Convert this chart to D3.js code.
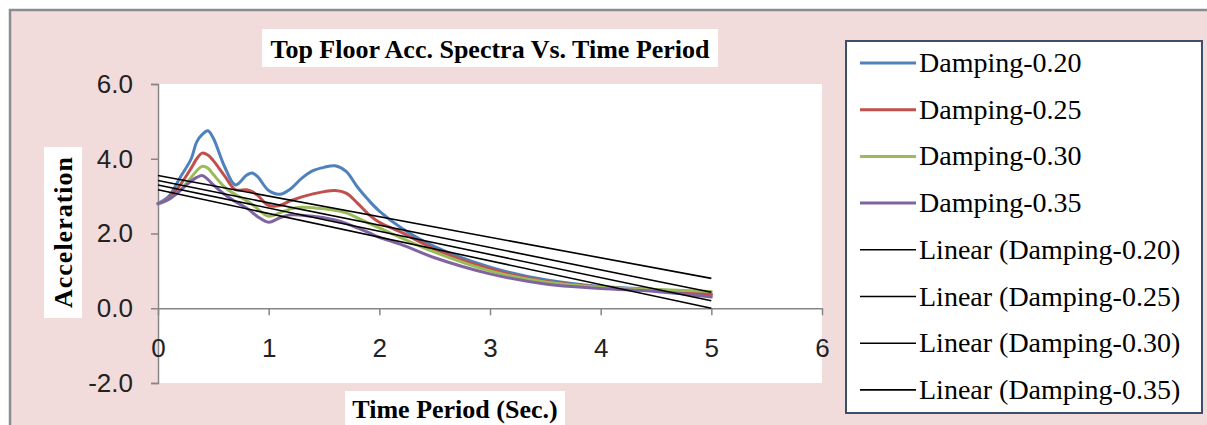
<!DOCTYPE html>
<html>
<head>
<meta charset="utf-8">
<script src="https://cdn.jsdelivr.net/npm/d3@7"></script>
<style>
  html, body { margin: 0; padding: 0; background: #ffffff; overflow: hidden; }
  svg { display: block; }
  .serif { font-family: "Liberation Serif", "Times New Roman", Times, serif; }
  .sans { font-family: "Liberation Sans", Arial, sans-serif; }
</style>
</head>
<body>
<svg id="chart" width="1207" height="425"></svg>
<script>
// ---- Data ----
const periods   = [0, 0.1, 0.2, 0.3, 0.35, 0.4, 0.45, 0.5, 0.6, 0.7, 0.8, 0.85, 0.9, 1.0, 1.1, 1.2, 1.3, 1.4, 1.5, 1.6, 1.7, 1.8, 1.9, 2.0, 2.2, 2.5, 3.0, 3.5, 4.0, 4.5, 5.0];
const damping20 = [2.8, 3.0, 3.5, 4.0, 4.45, 4.65, 4.75, 4.55, 3.8, 3.3, 3.56, 3.62, 3.52, 3.15, 3.05, 3.2, 3.48, 3.68, 3.77, 3.81, 3.66, 3.25, 2.9, 2.6, 2.15, 1.65, 1.1, 0.76, 0.58, 0.5, 0.36];
const damping25 = [2.8, 2.95, 3.3, 3.75, 4.0, 4.15, 4.1, 3.95, 3.55, 3.17, 3.17, 3.12, 3.02, 2.75, 2.75, 2.88, 2.98, 3.06, 3.12, 3.15, 3.08, 2.82, 2.52, 2.3, 2.03, 1.58, 1.05, 0.72, 0.57, 0.48, 0.38];
const damping30 = [2.8, 2.92, 3.15, 3.5, 3.68, 3.8, 3.75, 3.58, 3.25, 3.04, 2.88, 2.78, 2.66, 2.46, 2.55, 2.66, 2.7, 2.69, 2.66, 2.62, 2.55, 2.42, 2.28, 2.15, 1.88, 1.5, 1.0, 0.7, 0.56, 0.5, 0.45];
const damping35 = [2.8, 2.92, 3.15, 3.4, 3.5, 3.55, 3.45, 3.3, 3.05, 2.85, 2.68, 2.57, 2.45, 2.3, 2.42, 2.5, 2.49, 2.46, 2.42, 2.36, 2.27, 2.15, 2.03, 1.9, 1.7, 1.35, 0.92, 0.65, 0.53, 0.45, 0.3];
const seriesNames  = ["Damping-0.20", "Damping-0.25", "Damping-0.30", "Damping-0.35"];
const seriesColors = ["#4f81bd", "#c0504d", "#9bbb59", "#8064a2"];
// Linear trend lines: value at T = 0 and at T = 5
const trendStart = [3.55, 3.42, 3.30, 3.17];
const trendEnd   = [0.80, 0.43, 0.20, 0.00];
const trendRange = [0, 5];
const xTicks = [0, 1, 2, 3, 4, 5, 6];
const yTicks = [-2, 0, 2, 4, 6];

const seriesValues = [damping20, damping25, damping30, damping35];

// ---- Layout ----
const svg = d3.select("#chart");
const W = 1207, H = 425;
const plot = { left: 158, right: 822, top: 84, bottom: 383 };

// outer chart area
svg.append("rect").attr("x", 10).attr("y", 10).attr("width", W + 20).attr("height", H + 20)
  .attr("fill", "#f2dcdb").attr("stroke", "#8c8c8c").attr("stroke-width", 2.5);

// plot area
svg.append("rect").attr("x", plot.left).attr("y", plot.top)
  .attr("width", plot.right - plot.left).attr("height", plot.bottom - plot.top)
  .attr("fill", "#ffffff");

const x = d3.scaleLinear().domain([0, 6]).range([plot.left, plot.right]);
const y = d3.scaleLinear().domain([-2, 6]).range([plot.bottom, plot.top]);
const fmtY = v => d3.format(".1f")(v).replace("\u2212", "-");

// Y axis
const yAxis = svg.append("g").attr("transform", `translate(${plot.left},0)`)
  .call(d3.axisLeft(y).tickValues(yTicks).tickSize(7).tickPadding(18).tickFormat(fmtY));
yAxis.selectAll("path, line").attr("stroke", "#868686").attr("stroke-width", 1.5);
yAxis.selectAll("text").attr("class", "sans").attr("font-family", null)
  .attr("font-size", 26).attr("fill", "#222");

// X axis at y = 0
const xAxis = svg.append("g").attr("transform", `translate(0,${y(0)})`)
  .call(d3.axisBottom(x).tickValues(xTicks).tickSize(7).tickSizeOuter(0).tickPadding(23).tickFormat(d3.format("d")));
xAxis.selectAll("path, line").attr("stroke", "#868686").attr("stroke-width", 1.5);
xAxis.selectAll("text").attr("class", "sans").attr("font-family", null)
  .attr("font-size", 26).attr("fill", "#222");
yAxis.attr("font-family", null);
xAxis.attr("font-family", null);

// Data lines (smoothed)
const line = d3.line().x(d => x(d[0])).y(d => y(d[1])).curve(d3.curveCatmullRom.alpha(0.5));
const dataG = svg.append("g");
seriesValues.forEach((vals, i) => {
  const pts = periods.map((p, j) => [p, vals[j]]);
  dataG.append("path").datum(pts).attr("d", line)
    .attr("fill", "none").attr("stroke", seriesColors[i]).attr("stroke-width", 3)
    .attr("stroke-linejoin", "round").attr("stroke-linecap", "round");
});

// Trend lines
const trendG = svg.append("g");
trendStart.forEach((s, i) => {
  const pts = [[trendRange[0], s], [trendRange[1], trendEnd[i]]];
  trendG.append("path").datum(pts).attr("d", d3.line().x(d => x(d[0])).y(d => y(d[1])))
    .attr("fill", "none").attr("stroke", "#000").attr("stroke-width", 1.6);
});

// Title
const titleText = "Top Floor Acc. Spectra Vs. Time Period";
svg.append("rect").attr("x", 262).attr("y", 29).attr("width", 456).attr("height", 38).attr("fill", "#fff");
svg.append("text").attr("class", "serif").attr("x", 490).attr("y", 58).attr("text-anchor", "middle")
  .attr("font-weight", "bold").attr("font-size", 26).attr("fill", "#000").text(titleText);

// X axis title
svg.append("rect").attr("x", 345).attr("y", 391).attr("width", 220).attr("height", 40).attr("fill", "#fff");
svg.append("text").attr("class", "serif").attr("x", 455).attr("y", 418).attr("text-anchor", "middle")
  .attr("font-weight", "bold").attr("font-size", 26).attr("fill", "#000").text("Time Period (Sec.)");

// Y axis title
svg.append("rect").attr("x", 44).attr("y", 147).attr("width", 38).attr("height", 171).attr("fill", "#fff");
svg.append("text").attr("class", "serif").attr("transform", "translate(72,232) rotate(-90)").attr("text-anchor", "middle")
  .attr("font-weight", "bold").attr("font-size", 26).attr("letter-spacing", 1).attr("fill", "#000").text("Acceleration");

// Legend
const legend = svg.append("g");
legend.append("rect").attr("x", 846).attr("y", 41).attr("width", 356).attr("height", 372)
  .attr("fill", "#fff").attr("stroke", "#3d4f6b").attr("stroke-width", 2);
const legendItems = seriesNames.map((n, i) => ({ name: n, color: seriesColors[i], w: 3 }))
  .concat(seriesNames.map(n => ({ name: `Linear (${n})`, color: "#000", w: 1.6 })));
legendItems.forEach((it, i) => {
  const cy = 63 + i * 46.7;
  legend.append("line").attr("x1", 860).attr("x2", 916).attr("y1", cy).attr("y2", cy)
    .attr("stroke", it.color).attr("stroke-width", it.w);
  legend.append("text").attr("class", "serif").attr("x", 919).attr("y", cy + 9)
    .attr("font-size", 28).attr("fill", "#000").text(it.name);
});
</script>
</body>
</html>
